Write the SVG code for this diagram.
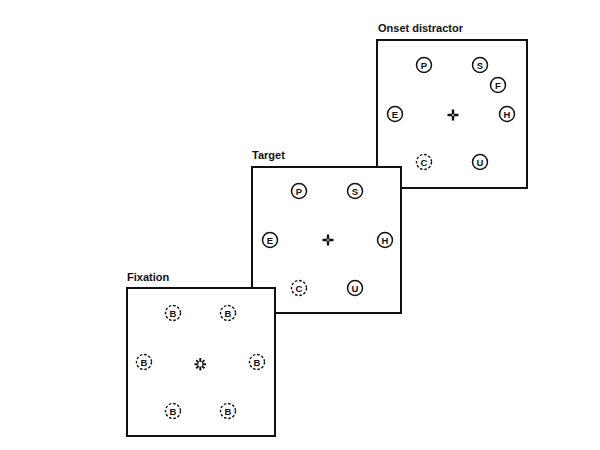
<svg xmlns="http://www.w3.org/2000/svg" width="600" height="450" viewBox="0 0 600 450">
<style>
.box{fill:#fff;stroke:#111;stroke-width:2}
.lbl{font-family:"Liberation Sans",Arial,sans-serif;font-weight:bold;font-size:11px;fill:#111}
.c{fill:#fff;stroke:#111;stroke-width:1.5}
.d{fill:#fff;stroke:#111;stroke-width:1.4;stroke-dasharray:2.6 1.8}
.t{font-family:"Liberation Sans",Arial,sans-serif;font-weight:bold;font-size:9.5px;fill:#111;text-anchor:middle;dominant-baseline:central}
.x{stroke:#111;stroke-width:2.4;fill:none}
</style>
<rect width="600" height="450" fill="#fff"/>
<g id="onset">
<rect class="box" x="377" y="40" width="150" height="148"/>
<text class="lbl" x="378" y="32">Onset distractor</text>
<circle class="c" cx="424" cy="65" r="7.5"/><text class="t" x="424" y="65">P</text>
<circle class="c" cx="480" cy="65" r="7.5"/><text class="t" x="480" y="65">S</text>
<circle class="c" cx="498" cy="85" r="7.5"/><text class="t" x="498" y="85">F</text>
<circle class="c" cx="395" cy="114" r="7.5"/><text class="t" x="395" y="114">E</text>
<circle class="c" cx="507" cy="114" r="7.5"/><text class="t" x="507" y="114">H</text>
<circle class="d" cx="424" cy="162" r="7.5"/><text class="t" x="424" y="162">C</text>
<circle class="c" cx="480" cy="162" r="7.5"/><text class="t" x="480" y="162">U</text>
<path class="x" d="M447.5 115h4.7M453.8 115h4.7M453 109.5v4.7M453 115.8v4.7"/>
</g>
<g id="target">
<rect class="box" x="252" y="167" width="149" height="146"/>
<text class="lbl" x="252" y="159">Target</text>
<circle class="c" cx="299" cy="191" r="7.5"/><text class="t" x="299" y="191">P</text>
<circle class="c" cx="355" cy="191" r="7.5"/><text class="t" x="355" y="191">S</text>
<circle class="c" cx="270" cy="240" r="7.5"/><text class="t" x="270" y="240">E</text>
<circle class="c" cx="385" cy="240" r="7.5"/><text class="t" x="385" y="240">H</text>
<circle class="d" cx="299" cy="288" r="7.5"/><text class="t" x="299" y="288">C</text>
<circle class="c" cx="355" cy="288" r="7.5"/><text class="t" x="355" y="288">U</text>
<path class="x" d="M322.5 240h4.7M328.8 240h4.7M328 234.5v4.7M328 240.8v4.7"/>
</g>
<g id="fixation">
<rect class="box" x="127" y="288" width="148" height="148"/>
<text class="lbl" x="127" y="281">Fixation</text>
<circle class="d" cx="173" cy="313" r="7.5"/><text class="t" x="173" y="313">B</text>
<circle class="d" cx="228" cy="313" r="7.5"/><text class="t" x="228" y="313">B</text>
<circle class="d" cx="144" cy="362" r="7.5"/><text class="t" x="144" y="362">B</text>
<circle class="d" cx="257" cy="362" r="7.5"/><text class="t" x="257" y="362">B</text>
<circle class="d" cx="173" cy="411" r="7.5"/><text class="t" x="173" y="411">B</text>
<circle class="d" cx="228" cy="411" r="7.5"/><text class="t" x="228" y="411">B</text>
<path stroke="#111" stroke-width="1.9" fill="none" d="M200.3 358v4M200.3 366.6v4M194.5 364.3h4M202.1 364.3h4M196.2 360.2l2.4 2.4M204.4 360.2l-2.4 2.4M196.2 368.4l2.4-2.4M204.4 368.4l-2.4-2.4"/>
</g>
</svg>
